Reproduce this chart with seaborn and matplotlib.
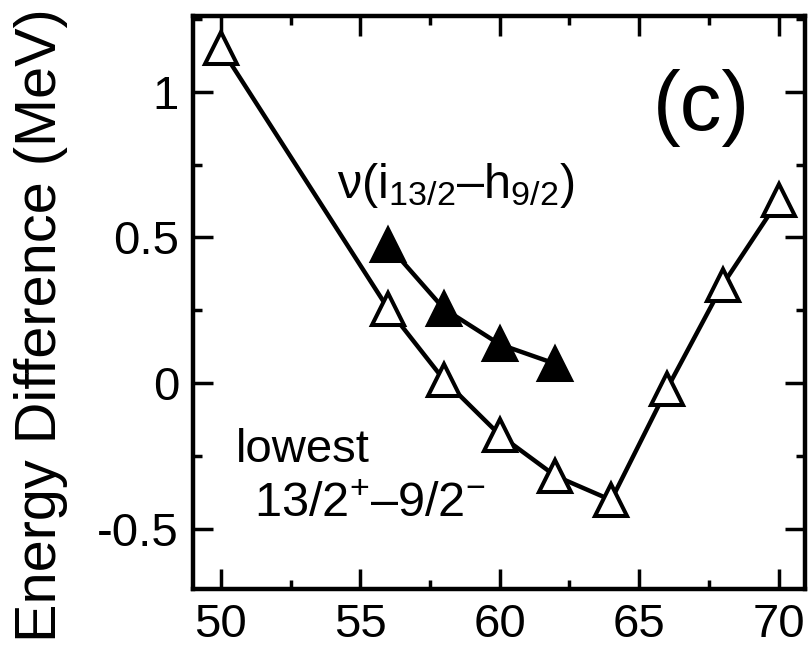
import matplotlib
matplotlib.use("Agg")
import matplotlib.pyplot as plt
import seaborn as sns
import pandas as pd
from matplotlib.ticker import MultipleLocator

# data
open_x = [50, 56, 58, 60, 62, 64, 66, 68, 70]
open_y = [1.15, 0.255, 0.011, -0.178, -0.319, -0.402, -0.02, 0.338, 0.627]
filled_x = [56, 58, 60, 62]
filled_y = [0.473, 0.255, 0.133, 0.066]
xticks = [50, 55, 60, 65, 70]
yticks = [-0.5, 0, 0.5, 1]
ytick_labels = ["-0.5", "0", "0.5", "1"]

sns.set_theme(style="white")
plt.rcParams["font.family"] = ["Liberation Sans", "DejaVu Sans"]
plt.rcParams["mathtext.fontset"] = "custom"
plt.rcParams["mathtext.rm"] = "Liberation Sans"
plt.rcParams["mathtext.it"] = "Liberation Sans:italic"
plt.rcParams["mathtext.default"] = "rm"
for k in ["text.color", "axes.labelcolor", "xtick.color", "ytick.color",
          "axes.edgecolor"]:
    plt.rcParams[k] = "black"

fig = plt.figure(figsize=(8.1, 6.47), dpi=100)
ax = fig.add_axes([193 / 810, 1 - 589 / 647, 612 / 810, 573 / 647])

df_open = pd.DataFrame({"x": open_x, "y": open_y})
df_fill = pd.DataFrame({"x": filled_x, "y": filled_y})

sns.lineplot(data=df_open, x="x", y="y", ax=ax, color="black", lw=3.2,
             marker="^", markersize=23, markerfacecolor="white",
             markeredgecolor="black", markeredgewidth=2.9)
sns.lineplot(data=df_fill, x="x", y="y", ax=ax, color="black", lw=3.2,
             marker="^", markersize=23, markerfacecolor="black",
             markeredgecolor="black", markeredgewidth=2.9)

ax.set_xlim(49.0, 70.95)
ax.set_ylim(-0.707, 1.26)
ax.set_xticks(xticks)
ax.set_xticklabels([str(t) for t in xticks])
ax.set_yticks(yticks)
ax.set_yticklabels(ytick_labels)
ax.xaxis.set_minor_locator(MultipleLocator(2.5))
ax.yaxis.set_minor_locator(MultipleLocator(0.25))
ax.tick_params(which="both", direction="in", top=True, right=True,
               bottom=True, left=True, width=2.5, color="black",
               labelcolor="black")
ax.tick_params(which="major", length=14.5, labelsize=34, pad=10)
ax.tick_params(which="minor", length=6.5)
for s in ax.spines.values():
    s.set_linewidth(3.2)
    s.set_color("black")

ax.set_xlabel("")
ax.set_ylabel("Energy Difference (MeV)", fontsize=41.5, color="black")
ax.yaxis.set_label_coords(-0.205, 0.46)

ax.text(67.24, 0.945, "(c)", fontsize=60, ha="center", va="center", color="black")
ax.text(54.15, 0.634, r"ν(i$_{13/2}$–h$_{9/2}$)", fontsize=35, ha="left",
        va="baseline", color="black")
ax.text(50.54, -0.27, "lowest", fontsize=34, ha="left", va="baseline", color="black")
ax.text(51.18, -0.459, r"13/2$^{+}$–9/2$^{-}$", fontsize=35, ha="left",
        va="baseline", color="black")

fig.savefig("out.png", dpi=100)
